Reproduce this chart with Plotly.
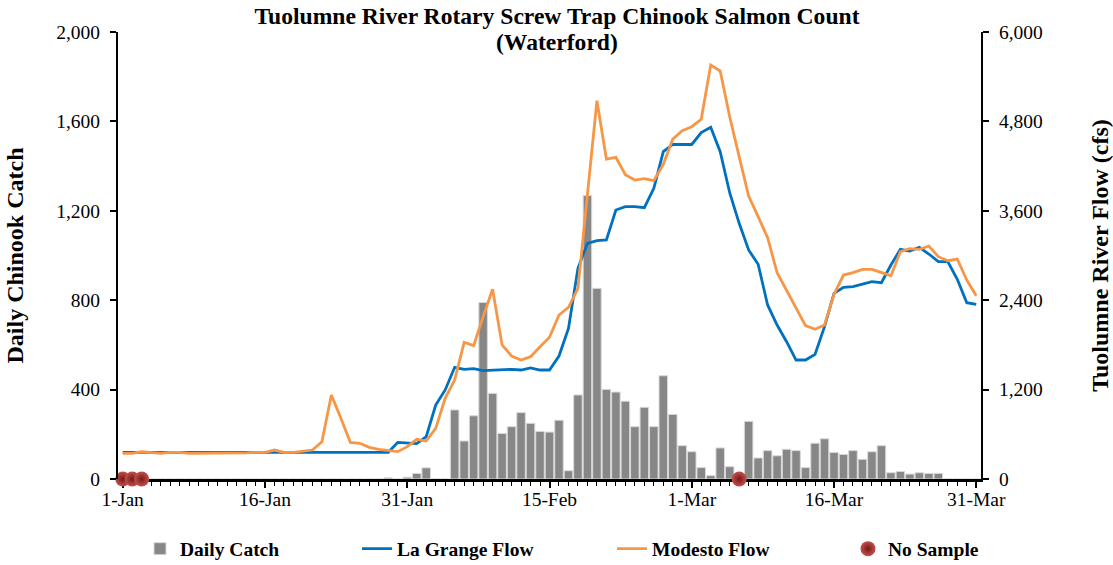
import pandas as pd
import plotly.graph_objects as go

# Categories: daily dates, 1-Jan to 31-Mar (leap year)
dates = pd.date_range("2024-01-01", "2024-03-31", freq="D")

# Daily Chinook catch (None = no sample)
daily_catch = [None, None, None] + [0] * 25 + [
    5, 0, 8, 25, 50, 0, 0,
    309, 170, 283, 790, 383, 204, 234, 297, 249, 213, 210, 263, 37, 376,
    1268, 853, 401, 389, 348, 234, 321, 234, 462, 289, 149,
    122, 51, 15, 139, 55, None, 258, 94, 127, 104, 133, 127, 51, 160, 180,
    119, 110, 127, 88, 122, 149, 28, 34, 22, 28, 25, 25, 0, 0, 0, 0]

# La Grange flow (cfs)
la_grange = [358] * 29 + [
    492, 479, 475, 568, 993, 1195, 1499, 1472, 1481, 1454, 1463, 1463, 1472,
    1463, 1490, 1463, 1463, 1651, 2022, 2828, 3163, 3199, 3208, 3611, 3655,
    3655, 3642, 3902, 4394, 4492, 4492, 4490, 4649, 4720, 4394, 3843, 3432,
    3074, 2882, 2336, 2067, 1843, 1597, 1597, 1673, 2045, 2492, 2573, 2582,
    2613, 2649, 2635, 2872, 3083, 3060, 3110, 3020, 2917, 2917, 2680, 2367, 2345]

# Modesto flow (cfs)
modesto = [
    345, 345, 366, 358, 345, 358, 358, 345, 345, 345, 345, 345, 345, 350, 358,
    358, 389, 358, 358, 371, 389, 501, 1128, 815, 492, 479, 425, 398, 380, 367,
    434, 533, 510, 680, 1083, 1329, 1835, 1790, 2179, 2546, 1799, 1651, 1597,
    1642, 1776, 1902, 2201, 2304, 2559, 3790, 5078, 4295, 4318, 4085, 4013,
    4031, 4004, 4224, 4564, 4676, 4729, 4828, 5557, 5477, 4863, 4327, 3799,
    3521, 3239, 2770, 2537, 2291, 2058, 2009, 2067, 2479, 2738, 2770, 2814,
    2814, 2770, 2729, 3051, 3091, 3083, 3127, 2984, 2930, 2953, 2671, 2461]

# No-sample days
no_sample_dates = ["2024-01-01", "2024-01-02", "2024-01-03", "2024-03-06"]
no_sample_vals = [0, 0, 0, 0]

FONT = "Liberation Serif"
DAY_MS = 86400000

fig = go.Figure()
fig.add_trace(go.Bar(
    x=dates, y=daily_catch, name="Daily Catch", width=0.9 * DAY_MS,
    marker=dict(color="#878787", line=dict(color="#d9d9d9", width=1)),
    legend="legend", showlegend=True))
fig.add_trace(go.Scatter(
    x=dates, y=la_grange, name="La Grange Flow", mode="lines", yaxis="y2",
    line=dict(color="#0070C0", width=2.8), legend="legend2", showlegend=True))
fig.add_trace(go.Scatter(
    x=dates, y=modesto, name="Modesto Flow", mode="lines", yaxis="y2",
    line=dict(color="#F79646", width=2.8), legend="legend3", showlegend=True))
fig.add_trace(go.Scatter(
    x=no_sample_dates, y=no_sample_vals, name="No Sample", mode="markers",
    cliponaxis=False,
    marker=dict(size=15, color="#c4514c",
                gradient=dict(type="radial", color="#761818"),
                line=dict(width=0)),
    legend="legend4", showlegend=True))

W, H = 1113, 565
L, R, T, B = 118, 132, 32, 86
pw = W - L - R
ph = H - T - B
TITLE_CX = 557

legfont = dict(family=FONT, size=19.5, color="black", weight="bold")
def leg(px):
    return dict(x=px / W, y=1 - 549 / H, xref="container", yref="container",
                xanchor="left", yanchor="middle",
                orientation="h", font=legfont, bgcolor="rgba(0,0,0,0)")

fig.update_layout(
    width=W, height=H,
    margin=dict(l=L, r=R, t=T, b=B, autoexpand=False),
    plot_bgcolor="white", paper_bgcolor="white",
    font=dict(family=FONT, size=19.5, color="black"),
    bargap=0.1,
    showlegend=True,
    title=dict(text="<b>Tuolumne River Rotary Screw Trap Chinook Salmon Count</b>",
               x=TITLE_CX / W, xanchor="center",
               y=1 - 16 / H, yanchor="middle", yref="container",
               font=dict(family=FONT, size=23.6, color="black")),
    annotations=[dict(text="<b>(Waterford)</b>", xref="paper", yref="paper",
                      x=(TITLE_CX - L) / pw, y=1 + (T - 42) / ph,
                      xanchor="center", yanchor="middle", showarrow=False,
                      font=dict(family=FONT, size=23.6, color="black"))],
    xaxis=dict(
        type="date",
        range=["2023-12-31 12:00", "2024-03-31 12:00"],
        tick0="2024-01-01", dtick=15 * DAY_MS, tickformat="%-d-%b",
        ticks="outside", ticklen=6, tickwidth=1.5, tickcolor="black",
        ticklabelstandoff=-5,
        minor=dict(dtick=DAY_MS, ticks="outside", ticklen=4, tickwidth=1.2,
                   tickcolor="black"),
        showline=True, linecolor="black", linewidth=2.5,
        showgrid=False, zeroline=False, layer="below traces",
        tickfont=dict(family=FONT, size=19.5, color="black"),
    ),
    yaxis=dict(
        range=[0, 2000], dtick=400, tickformat=",d",
        ticks="outside", ticklen=6, tickwidth=1.5, tickcolor="black",
        ticklabelstandoff=6,
        showline=True, linecolor="black", linewidth=2,
        showgrid=False, zeroline=False,
        title=dict(text="<b>Daily Chinook Catch</b>", standoff=26,
                   font=dict(family=FONT, size=24, color="black")),
        tickfont=dict(family=FONT, size=19.5, color="black"),
    ),
    yaxis2=dict(
        range=[0, 6000], dtick=1200, tickformat=",d", overlaying="y",
        side="right",
        ticks="outside", ticklen=6, tickwidth=1.5, tickcolor="black",
        ticklabelstandoff=6,
        showline=True, linecolor="black", linewidth=2,
        showgrid=False, zeroline=False,
        title=dict(text="<b>Tuolumne River Flow (cfs)</b>", standoff=50,
                   font=dict(family=FONT, size=24, color="black")),
        tickfont=dict(family=FONT, size=19.5, color="black"),
    ),
    legend=leg(140),
    legend2=leg(357),
    legend3=leg(612),
    legend4=leg(848),
)

fig.write_html("out.html",
               config={"displayModeBar": False},
               post_script="document.body.style.margin='0';"
                           "document.body.style.overflow='hidden';")
